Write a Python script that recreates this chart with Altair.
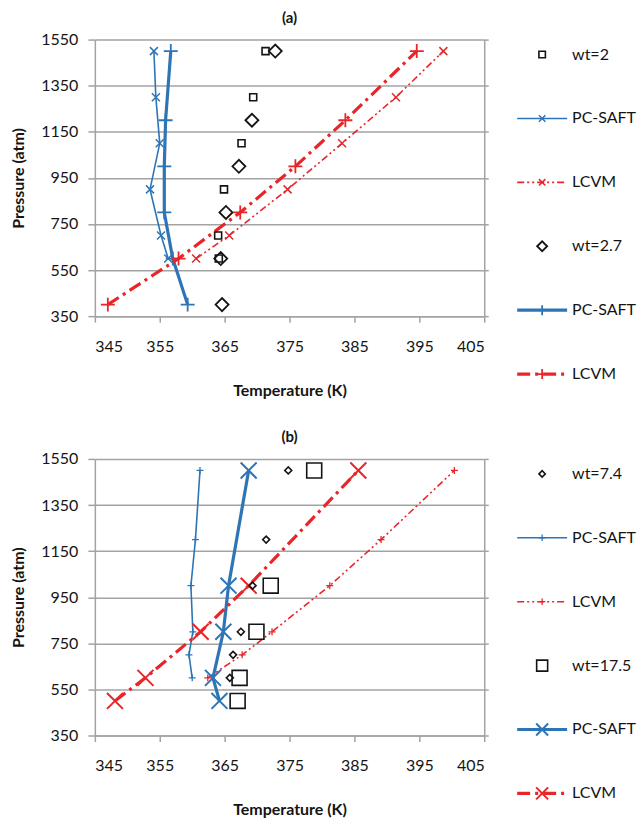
import altair as alt
import pandas as pd

FONT = "Lato"
BLUE = "#2E75B6"
RED = "#E8262A"
GRAY = "#A3A3A3"
INK = "#141414"

T_TICKS = [345, 355, 365, 375, 385, 395, 405]
P_TICKS = [350, 550, 750, 950, 1150, 1350, 1550]

# ---------------- panel (a) ----------------
a_exp2_P = [1500, 1300, 1100, 900, 700, 600]
a_exp2_T = [371.3, 369.4, 367.6, 364.9, 364.0, 364.1]
a_pc2_P = [1500, 1300, 1100, 900, 700, 600]
a_pc2_T = [354.1, 354.4, 355.0, 353.5, 355.2, 356.3]
a_lc2_P = [600, 700, 900, 1100, 1300, 1500]
a_lc2_T = [360.6, 365.7, 374.7, 383.1, 391.4, 398.7]
a_exp27_P = [1500, 1200, 1000, 800, 600, 400]
a_exp27_T = [372.8, 369.2, 367.2, 365.2, 364.4, 364.6]
a_pc27_P = [1500, 1200, 1000, 800, 600, 400]
a_pc27_T = [356.7, 355.9, 355.7, 355.7, 357.0, 359.3]
a_lc27_P = [400, 600, 800, 1000, 1200, 1500]
a_lc27_T = [347.0, 357.9, 367.4, 375.9, 383.6, 394.6]

# ---------------- panel (b) ----------------
b_exp74_P = [1500, 1200, 1000, 800, 700, 600]
b_exp74_T = [374.8, 371.4, 369.3, 367.5, 366.3, 365.8]
b_pc74_P = [1500, 1200, 1000, 800, 700, 600]
b_pc74_T = [361.2, 360.5, 359.8, 360.1, 359.5, 360.0]
b_lc74_P = [600, 700, 800, 1000, 1200, 1500]
b_lc74_T = [362.4, 367.7, 372.3, 381.2, 389.1, 400.4]
b_exp175_P = [1500, 1000, 800, 600, 500]
b_exp175_T = [378.8, 372.1, 369.9, 367.3, 367.0]
b_pc175_P = [1500, 1000, 800, 600, 500]
b_pc175_T = [368.7, 365.6, 364.8, 363.2, 364.2]
b_lc175_P = [500, 600, 800, 1000, 1500]
b_lc175_T = [348.1, 352.8, 361.3, 368.7, 385.6]

LEG_A = ["wt=2", "PC-SAFT", "LCVM", "wt=2.7", "PC-SAFT", "LCVM"]
LEG_B = ["wt=7.4", "PC-SAFT", "LCVM", "wt=17.5", "PC-SAFT", "LCVM"]

SHAPE_X = "M-1,-1L1,1M-1,1L1,-1"
SHAPE_PLUS = "M-1,0L1,0M0,-1L0,1"
DASH_DDOT = [7, 3, 2, 3, 2, 3]
DASH_DOT = [13, 5, 3, 5]

# style: color, shape, marker size, marker stroke, line width (0 = none), dash, legend marker size
STY = {
    "sq_s": (INK, "square", 49, 1.6, 0, None, 42),
    "di_l": (INK, "diamond", 169, 1.8, 0, None, 100),
    "pc_x": (BLUE, SHAPE_X, 64, 1.5, 1.6, None, 42),
    "lc_x": (RED, SHAPE_X, 64, 1.5, 1.6, DASH_DDOT, 42),
    "pc_p": (BLUE, SHAPE_PLUS, 196, 1.8, 3.2, None, 100),
    "lc_p": (RED, SHAPE_PLUS, 196, 1.8, 3.2, DASH_DOT, 100),
    "di_s": (INK, "diamond", 49, 1.6, 0, None, 40),
    "pc_ps": (BLUE, SHAPE_PLUS, 49, 1.3, 1.6, None, 42),
    "lc_ps": (RED, SHAPE_PLUS, 49, 1.3, 1.6, DASH_DDOT, 42),
    "sq_l": (INK, "square", 225, 1.6, 0, None, 121),
    "pc_xl": (BLUE, SHAPE_X, 256, 2.0, 3.2, None, 144),
    "lc_xl": (RED, SHAPE_X, 256, 2.0, 3.2, DASH_DOT, 144),
}

XS = alt.Scale(domain=[345, 405], nice=False, zero=False)
YS = alt.Scale(domain=[350, 1550], nice=False, zero=False)

X_AXIS = alt.Axis(values=T_TICKS, title="Temperature (K)", grid=False, tickSize=6,
                  labelPadding=16, titlePadding=28, format="d")

W, H = 390, 277
LW, LH = 112, 340
LSTEP = 64
LXS = alt.Scale(domain=[0, LW], nice=False, zero=False)
LYS = alt.Scale(domain=[-15 / LSTEP, -15 / LSTEP + LH / LSTEP], nice=False, zero=False,
                reverse=True)


def series(T, P, key):
    color, shape, size, sw, lw, dash, _ = STY[key]
    df = pd.DataFrame({"T": T, "P": P, "i": list(range(len(T)))})
    base = alt.Chart(df).encode(
        x=alt.X("T:Q", scale=XS, axis=X_AXIS),
        y=alt.Y("P:Q", scale=YS, axis=None),
        order=alt.Order("i:Q"),
    )
    out = []
    if lw:
        kw = dict(color=color, strokeWidth=lw, clip=False)
        if dash:
            kw["strokeDash"] = dash
        out.append(base.mark_line(**kw))
    out.append(base.mark_point(shape=shape, size=size, color=color, strokeWidth=sw,
                               filled=False, opacity=1))
    return out


def frame():
    df = pd.DataFrame({"T": [345, 405], "P": [350, 1550]})
    base = alt.Chart(df).mark_point(opacity=0)
    left = base.encode(
        x=alt.X("T:Q", scale=XS, axis=X_AXIS),
        y=alt.Y("P:Q", scale=YS, axis=alt.Axis(values=P_TICKS, title="Pressure (atm)",
                                               grid=True, tickSize=7, labelPadding=10,
                                               titlePadding=14, format="d")),
    )
    right = base.encode(
        x=alt.X("T:Q", scale=XS, axis=X_AXIS),
        y=alt.Y("P:Q", scale=YS, axis=alt.Axis(orient="right", values=P_TICKS, labels=False,
                                               title="", grid=False, tickSize=4)),
    )
    return [left, right]


def panel(title, series_list):
    layers = frame()
    for T, P, key in series_list:
        layers += series(T, P, key)
    return alt.layer(*layers).resolve_axis(y="independent", x="shared").properties(
        width=W, height=H,
        title=alt.TitleParams(title, fontSize=15, fontWeight="bold", font=FONT,
                              offset=6, anchor="middle", color=INK),
    )


def legend(labels, keys):
    layers = []
    for k, (lab, key) in enumerate(zip(labels, keys)):
        color, shape, size, sw, lw, dash, lsize = STY[key]
        if lw:
            ldf = pd.DataFrame({"x": [8, 58], "y": [k, k]})
            kw = dict(color=color, strokeWidth=lw)
            if dash:
                kw["strokeDash"] = dash
            layers.append(alt.Chart(ldf).mark_line(**kw).encode(
                x=alt.X("x:Q", scale=LXS, axis=None),
                y=alt.Y("y:Q", scale=LYS, axis=None)))
        pdf = pd.DataFrame({"x": [33], "y": [k], "t": [lab]})
        layers.append(alt.Chart(pdf).mark_point(shape=shape, size=lsize, color=color,
                                                strokeWidth=sw, filled=False, opacity=1).encode(
            x=alt.X("x:Q", scale=LXS, axis=None),
            y=alt.Y("y:Q", scale=LYS, axis=None)))
        tdf = pd.DataFrame({"x": [63], "y": [k], "t": [lab]})
        layers.append(alt.Chart(tdf).mark_text(align="left", baseline="middle", fontSize=16,
                                               font=FONT, color=INK).encode(
            x=alt.X("x:Q", scale=LXS, axis=None),
            y=alt.Y("y:Q", scale=LYS, axis=None),
            text="t:N"))
    return alt.layer(*layers).properties(width=LW, height=LH)


panel_a = panel("(a)", [
    (a_pc2_T, a_pc2_P, "pc_x"),
    (a_lc2_T, a_lc2_P, "lc_x"),
    (a_pc27_T, a_pc27_P, "pc_p"),
    (a_lc27_T, a_lc27_P, "lc_p"),
    (a_exp2_T, a_exp2_P, "sq_s"),
    (a_exp27_T, a_exp27_P, "di_l"),
])
panel_b = panel("(b)", [
    (b_pc74_T, b_pc74_P, "pc_ps"),
    (b_lc74_T, b_lc74_P, "lc_ps"),
    (b_pc175_T, b_pc175_P, "pc_xl"),
    (b_lc175_T, b_lc175_P, "lc_xl"),
    (b_exp74_T, b_exp74_P, "di_s"),
    (b_exp175_T, b_exp175_P, "sq_l"),
])

leg_a = legend(LEG_A, ["sq_s", "pc_x", "lc_x", "di_l", "pc_p", "lc_p"])
leg_b = legend(LEG_B, ["di_s", "pc_ps", "lc_ps", "sq_l", "pc_xl", "lc_xl"])

row_a = alt.hconcat(panel_a, leg_a, spacing=20)
row_b = alt.hconcat(panel_b, leg_b, spacing=20)

chart = alt.vconcat(row_a, row_b, spacing=32).properties(
    padding={"left": 10, "top": 10, "right": 0, "bottom": 0},
    background="white",
).configure_view(
    stroke=None
).configure_axis(
    labelFont=FONT, titleFont=FONT, labelFontSize=16, titleFontSize=16,
    titleFontWeight="bold", labelColor=INK, titleColor=INK,
    domainColor=GRAY, tickColor=GRAY, gridColor=GRAY,
    domainWidth=1.5, tickWidth=1.5, gridWidth=1.5,
).configure_text(font=FONT)

chart.save("out.html", embed_options={"renderer": "svg", "actions": False})
